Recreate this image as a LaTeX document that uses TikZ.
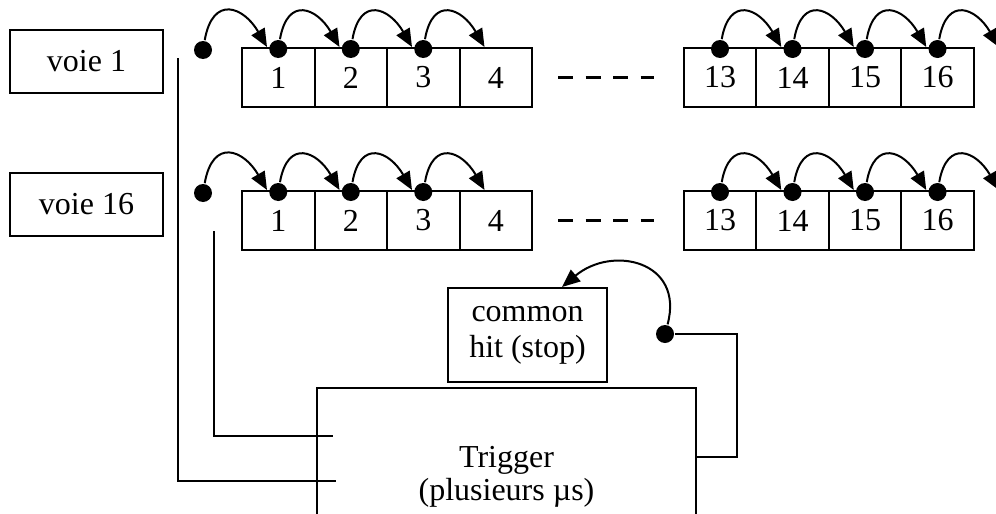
\documentclass[tikz,border=0pt]{standalone}
\usepackage{fontspec}
\setmainfont{Liberation Serif}
\usetikzlibrary{arrows.meta}

\tikzset{
  boite/.style={draw, line width=2pt, minimum width=153pt, minimum height=63pt, inner sep=0pt, align=center},
  case/.style={draw, line width=2pt, minimum width=72.5pt, minimum height=59pt, inner sep=0pt},
  point/.style={circle, fill, inner sep=0pt, minimum size=18pt},
  saut/.style={line width=2pt, -{Triangle[length=18pt,width=15pt]}, out=80, in=120, looseness=1.9},
  pointilles/.style={line width=3.5pt, dash pattern=on 15pt off 12.5pt},
}

\begin{document}
\begin{tikzpicture}[x=1pt, y=1pt, line width=2pt, font=\fontsize{32}{36}\selectfont]
  \useasboundingbox (0,0) rectangle (996,-514);
  \pgfmathsetmacro{\w}{72.5}

  % les voies d'entree
  \node[boite] (voie1)  at (86.5,-61.5) {voie 1};
  \node[boite] (voie16) at (86.5,-204)  {voie 16};

  % deux registres : a = voie 1, b = voie 16
  \foreach \r/\y in {a/-77.5, b/-220.5} {
    \node[point] (\r0) at (203,\y+27.5) {};
    \foreach \k in {1,...,4}
      \node[case] (\r\k) at (278.25+\w*\k-\w,\y) {\k};
    \foreach \k in {13,...,16}
      \node[case] (\r\k) at (720+\w*\k-13*\w,\y) {\k};
    % points sur les cases
    \foreach \k in {1,2,3,13,14,15,16}
      \node[point] (\r d\k) at ([yshift=-2pt]\r\k.north) {};
    % pointes des fleches
    \foreach \k in {1,2,3,4,14,15,16}
      \coordinate (\r t\k) at ([xshift=26pt]\r\k.north west);
    \coordinate (\r t17) at ([xshift=24pt]\r16.north east);
    \draw[saut] (\r0) to (\r t1);
    \foreach \k/\n in {1/2,2/3,3/4,13/14,14/15,15/16,16/17}
      \draw[saut] (\r d\k) to (\r t\n);
    \draw[pointilles] ([xshift=25pt]\r4.east) -- ([xshift=-29pt]\r13.west);
  }

  % trigger et stop commun
  \node[draw, minimum width=379pt, minimum height=178pt, anchor=north, align=center, inner sep=0pt]
    (trigger) at (506.5,-387) {Trigger\\[-3pt](plusieurs µs)};
  \node[draw, minimum width=159pt, minimum height=94pt, align=center, inner sep=0pt]
    (stop) at (527.5,-335) {common\\hit (stop)};

  % liaisons voies -> trigger
  \coordinate (l1) at (178,-58);
  \coordinate (l1f) at (336,-481);
  \coordinate (l16) at (214,-231);
  \coordinate (l16f) at (333,-436);
  \draw (l1) |- (l1f);
  \draw (l16) |- (l16f);

  % sortie du trigger -> stop
  \node[point] (dstop) at (665,-334) {};
  \coordinate (tsortie) at ([yshift=20pt]trigger.east);
  \coordinate (tcoin) at (737,-334);
  \draw (tsortie) -| (tcoin) -- (dstop);
  \draw[saut, out=75, in=40, looseness=1.5] (dstop) to ([xshift=34.5pt]stop.north);
\end{tikzpicture}
\end{document}
